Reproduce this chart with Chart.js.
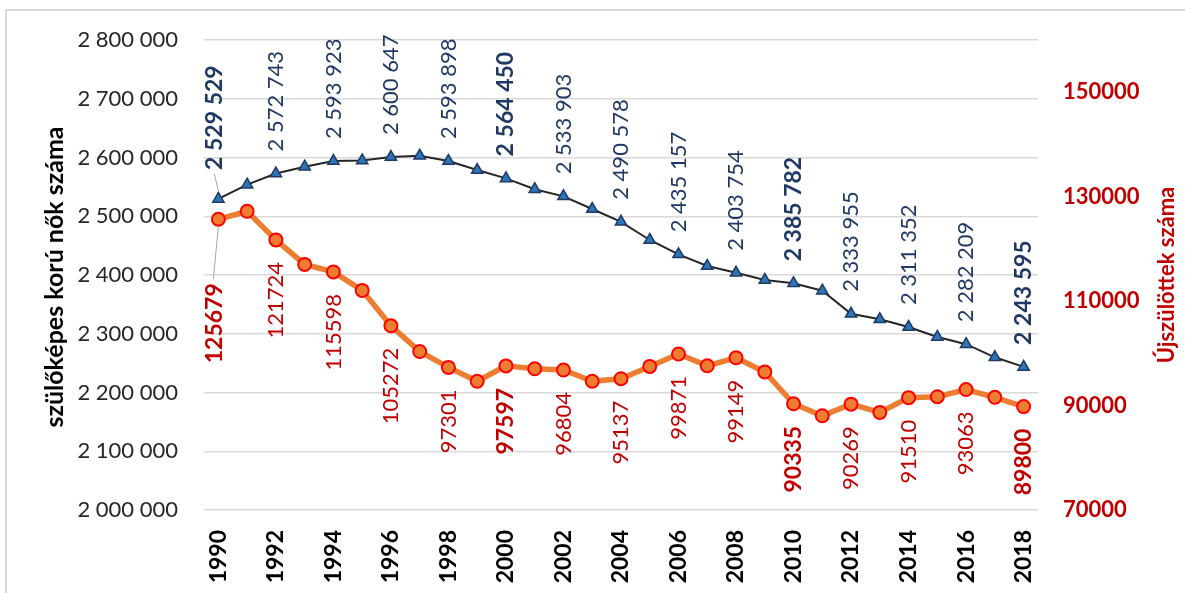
<!DOCTYPE html>
<html>
<head>
<meta charset="utf-8">
<script src="https://cdn.jsdelivr.net/npm/chart.js@4"></script>
<style>
  html, body { margin: 0; padding: 0; background: #fff; }
  #wrap { position: relative; width: 1185px; height: 593px; }
</style>
</head>
<body>
<div id="wrap"><canvas id="chart"></canvas></div>
<script>
// ===== Data =====
const years = ['1990','1991','1992','1993','1994','1995','1996','1997','1998','1999',
               '2000','2001','2002','2003','2004','2005','2006','2007','2008','2009',
               '2010','2011','2012','2013','2014','2015','2016','2017','2018'];

// szülőképes korú nők száma (left axis)
const women = [2529529, 2553800, 2572743, 2584300, 2593923, 2595000, 2600647, 2603000, 2593898, 2578700,
               2564450, 2546000, 2533903, 2512300, 2490578, 2459600, 2435157, 2415300, 2403754, 2391500,
               2385782, 2373300, 2333955, 2324600, 2311352, 2294500, 2282209, 2259900, 2243595];

// újszülöttek száma (right axis)
const births = [125679, 127207, 121724, 117033, 115598, 112054, 105272, 100350, 97301, 94645,
                97597, 97047, 96804, 94647, 95137, 97496, 99871, 97613, 99149, 96442,
                90335, 88049, 90269, 88689, 91510, 91690, 93063, 91577, 89800];

const leftTicks = [2000000, 2100000, 2200000, 2300000, 2400000, 2500000, 2600000, 2700000, 2800000];
const rightTicks = [70000, 90000, 110000, 130000, 150000];
const boldYears = ['1990', '2000', '2010', '2018'];

const FONT = 'Lato, "Open Sans", sans-serif';
const navy = '#1F3864';
const darkRed = '#C00000';

const spaced = (v) => String(v).replace(/\B(?=(\d{3})+(?!\d))/g, ' ');

function drawRot(ctx, text, x, y, align, font, color) {
  ctx.save();
  ctx.translate(x, y);
  ctx.rotate(-Math.PI / 2);
  ctx.font = font;
  ctx.fillStyle = color;
  ctx.textAlign = align;
  ctx.textBaseline = 'middle';
  ctx.fillText(text, 0, 0);
  ctx.restore();
}

// frame + axis titles
const framePlugin = {
  id: 'frame',
  beforeDraw(chart) {
    const ctx = chart.ctx;
    ctx.save();
    ctx.strokeStyle = '#D9D9D9';
    ctx.lineWidth = 2;
    ctx.beginPath();
    ctx.moveTo(6, 600);
    ctx.lineTo(6, 10);
    ctx.lineTo(1200, 10);
    ctx.stroke();
    ctx.restore();
  },
  afterDraw(chart) {
    const ctx = chart.ctx;
    drawRot(ctx, 'szülőképes korú nők száma', 55, 277, 'center', 'bold 25px ' + FONT, '#000');
    drawRot(ctx, 'Újszülöttek száma', 1167, 275, 'center', 'bold 22px ' + FONT, darkRed);
  }
};

// value labels on even years
const labelPlugin = {
  id: 'valueLabels',
  afterDatasetsDraw(chart) {
    const ctx = chart.ctx;
    const mb = chart.getDatasetMeta(0);
    const mr = chart.getDatasetMeta(1);
    years.forEach((yr, i) => {
      if (i % 2) return;
      const bold = boldYears.includes(yr);
      const pb = mb.data[i];
      const pr = mr.data[i];
      const gapB = i === 0 ? 29 : 22;
      const gapR = i === 0 ? 64 : 22;
      const dx = i === 0 ? -4 : 0;
      drawRot(ctx, spaced(women[i]), pb.x + dx, pb.y - gapB, 'left',
        (bold ? 'bold 23px ' : '22px ') + FONT, navy);
      drawRot(ctx, String(births[i]), pr.x + dx, pr.y + gapR, 'right',
        (bold ? 'bold 23px ' : '22px ') + FONT, darkRed);
      if (i === 0) {
        ctx.save();
        ctx.strokeStyle = '#A6A6A6';
        ctx.lineWidth = 1;
        ctx.beginPath();
        ctx.moveTo(pr.x, pr.y + 7);
        ctx.lineTo(pr.x - 5, pr.y + gapR - 4);
        ctx.moveTo(pb.x, pb.y - 8);
        ctx.lineTo(pb.x - 4, pb.y - gapB + 4);
        ctx.stroke();
        ctx.restore();
      }
    });
  }
};

new Chart(document.getElementById('chart'), {
  type: 'line',
  data: {
    labels: years,
    datasets: [
      {
        label: 'szülőképes korú nők száma',
        data: women,
        yAxisID: 'y',
        borderColor: '#262626',
        borderWidth: 2,
        pointStyle: 'triangle',
        pointRadius: 6.5,
        pointBackgroundColor: '#2E75B6',
        pointBorderColor: navy,
        pointBorderWidth: 1.5,
        tension: 0
      },
      {
        label: 'Újszülöttek száma',
        data: births,
        yAxisID: 'y1',
        borderColor: '#ED7D31',
        borderWidth: 5.5,
        pointRadius: 6.5,
        pointBackgroundColor: '#ED7D31',
        pointBorderColor: '#FF0000',
        pointBorderWidth: 2,
        tension: 0
      }
    ]
  },
  options: {
    responsive: true,
    maintainAspectRatio: false,
    animation: false,
    layout: { padding: { top: 40, left: 0, right: 0, bottom: 0 } },
    plugins: {
      legend: { display: false },
      tooltip: { enabled: false }
    },
    scales: {
      x: {
        offset: true,
        grid: { display: false, drawTicks: false },
        border: { display: false },
        afterFit: (s) => { s.height = 83; },
        ticks: {
          autoSkip: false,
          maxRotation: 90,
          minRotation: 90,
          padding: 20,
          color: '#000',
          font: { family: FONT, size: 23, weight: 'bold' },
          callback: (v, i) => (i % 2 ? '' : years[i])
        }
      },
      y: {
        position: 'left',
        min: 2000000,
        max: 2800000,
        afterFit: (s) => { s.width = 204; },
        afterBuildTicks: (s) => { s.ticks = leftTicks.map(v => ({ value: v })); },
        grid: { color: '#D9D9D9', lineWidth: 1.5, drawTicks: false },
        border: { display: false },
        ticks: {
          padding: 26,
          color: '#262626',
          font: { family: FONT, size: 22 },
          callback: (v) => spaced(v)
        }
      },
      y1: {
        position: 'right',
        min: 70000,
        max: 160000,
        afterFit: (s) => { s.width = 147; },
        afterBuildTicks: (s) => { s.ticks = rightTicks.map(v => ({ value: v })); },
        grid: { display: false, drawTicks: false },
        border: { display: false },
        ticks: {
          padding: 25,
          color: darkRed,
          font: { family: FONT, size: 22, weight: 'bold' },
          callback: (v) => String(v)
        }
      }
    }
  },
  plugins: [framePlugin, labelPlugin]
});
</script>
</body>
</html>
